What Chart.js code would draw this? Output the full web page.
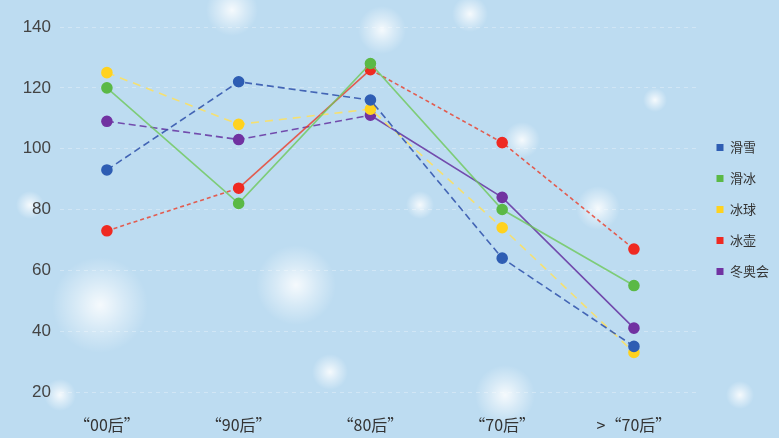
<!DOCTYPE html>
<html><head><meta charset="utf-8">
<script src="https://cdn.jsdelivr.net/npm/chart.js@4"></script>
<style>html,body{margin:0;padding:0;background:#bddcf1;}#wrap{width:779px;height:438px;position:relative;}</style>
</head><body><div id="wrap"><canvas id="c"></canvas></div>
<script>
const categories = ['“00后”', '“90后”', '“80后”', '“70后”', '>“70后”'];
const seriesNames = ['滑雪', '滑冰', '冰球', '冰壶', '冬奥会'];
const skiing   = [93, 122, 116, 64, 35];
const skating  = [120, 82, 128, 80, 55];
const hockey   = [125, 108, 113, 74, 33];
const curling  = [73, 87, 126, 102, 67];
const olympics = [109, 103, 111, 84, 41];
const yTicks = [20, 40, 60, 80, 100, 120, 140];

const pointColors = ['#2e5db3', '#5bb946', '#ffd21f', '#ef2a22', '#7132a1'];
const lineColors = ['rgba(46,80,170,0.85)', 'rgba(110,200,90,0.8)', 'rgba(255,225,90,0.85)', 'rgba(235,60,40,0.8)', 'rgba(105,60,165,0.9)'];

const series = [skiing, skating, hockey, curling, olympics];
const dashes = [
  () => [7, 4],
  () => [],
  () => [8, 6],
  (ctx) => ctx.p0DataIndex === 1 ? [] : [4, 3],
  (ctx) => ctx.p0DataIndex >= 2 ? [] : [7, 4]
];

const datasets = series.map((vals, i) => ({
  label: seriesNames[i],
  data: vals.map((v, k) => ({x: k, y: v})),
  borderColor: lineColors[i],
  backgroundColor: pointColors[i],
  pointBackgroundColor: pointColors[i],
  pointBorderColor: pointColors[i],
  pointRadius: 5,
  pointHoverRadius: 5,
  borderWidth: 1.6,
  fill: false,
  tension: 0,
  segment: { borderDash: dashes[i] }
}));

const bgPlugin = {
  id: 'bg',
  beforeDraw(chart) {
    const ctx = chart.ctx;
    ctx.save();
    ctx.fillStyle = '#bddcf1';
    ctx.fillRect(0, 0, chart.width, chart.height);
    const blobs = [[232,10,26],[382,30,24],[470,14,18],[100,305,48],[296,285,40],[505,395,30],[330,372,18],[598,208,22],[522,140,18],[30,205,14],[420,205,14],[60,395,16],[740,395,14],[655,100,12]];
    blobs.forEach(([x,y,r]) => {
      const g = ctx.createRadialGradient(x, y, 0, x, y, r);
      g.addColorStop(0, 'rgba(255,255,255,0.85)');
      g.addColorStop(0.5, 'rgba(255,255,255,0.4)');
      g.addColorStop(1, 'rgba(255,255,255,0)');
      ctx.fillStyle = g;
      ctx.fillRect(x - r, y - r, 2 * r, 2 * r);
    });
    ctx.restore();
  }
};

new Chart(document.getElementById('c'), {
  type: 'line',
  data: { datasets },
  plugins: [bgPlugin],
  options: {
    responsive: true,
    maintainAspectRatio: false,
    animation: false,
    layout: { padding: { top: 27, bottom: 4, left: 0, right: 0 } },
    plugins: {
      tooltip: { enabled: false },
      legend: {
        position: 'right',
        fullSize: false,
        labels: {
          boxWidth: 7, boxHeight: 7, padding: 18,
          color: '#333', font: { size: 13, family: 'Noto Sans CJK SC' },
          generateLabels(chart) {
            return chart.data.datasets.map((d, i) => ({
              text: d.label, fillStyle: pointColors[i], strokeStyle: pointColors[i],
              lineWidth: 0, lineDash: [], hidden: false, datasetIndex: i, fontColor: '#333'
            }));
          }
        }
      }
    },
    scales: {
      x: {
        type: 'linear',
        min: -0.356, max: 4.49,
        afterBuildTicks(scale) { scale.ticks = categories.map((c, i) => ({value: i})); },
        afterFit(scale) { scale.height = 42; },
        grid: { display: false },
        border: { display: false },
        ticks: {
          padding: 15, color: '#333', maxRotation: 0, autoSkip: false,
          font: { size: 16, family: 'Noto Sans CJK SC' },
          callback: (v) => categories[v]
        }
      },
      y: {
        min: 20, max: 140,
        afterBuildTicks(scale) { scale.ticks = yTicks.map(v => ({value: v})); },
        afterFit(scale) { scale.width = 60; },
        grid: { color: 'rgba(255,255,255,0.3)', borderDash: [4, 4], drawTicks: false },
        border: { display: false, dash: [4, 4] },
        ticks: { padding: 9, color: '#444', font: { size: 17, family: 'Liberation Sans' } }
      }
    }
  }
});
</script></body></html>
